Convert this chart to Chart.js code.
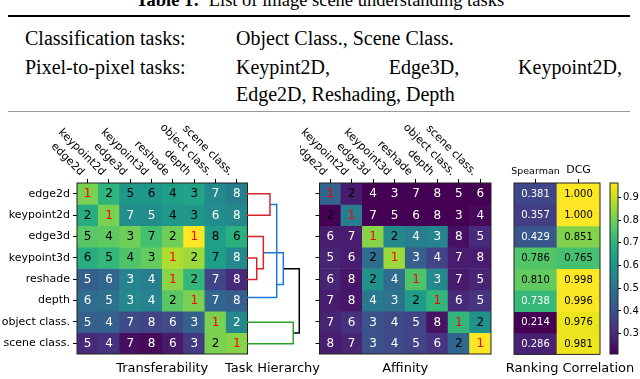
<!DOCTYPE html>
<html>
<head>
<meta charset="utf-8">
<script src="https://cdn.jsdelivr.net/npm/chart.js@4.4.1/dist/chart.umd.min.js"></script>
<style>
  body { margin: 0; background: #fff; }
  #page { position: relative; width: 640px; height: 379px; overflow: hidden; background: #fff; }
  .tx { position: absolute; font-family: "Liberation Serif", "Times New Roman", serif; font-size: 20px; line-height: 20px; color: #000; white-space: nowrap; }
  .rule { position: absolute; left: 8px; width: 622px; background: #000; }
  canvas { position: absolute; top: 115px; }
</style>
</head>
<body>
<div id="page">
  <div class="tx" style="left:0;width:640px;text-align:center;top:-10px;font-size:18.5px"><b>Table 1:</b>&nbsp; List of image scene understanding tasks</div>
  <div class="rule" style="top:15px;height:2px"></div>
  <div class="tx" style="left:25px;top:28px">Classification tasks:</div>
  <div class="tx" style="left:236px;top:28px">Object Class., Scene Class.</div>
  <div class="tx" style="left:25px;top:57px">Pixel-to-pixel tasks:</div>
  <div class="tx" style="left:236px;top:57px;width:386px;text-align:justify;text-align-last:justify">Keypint2D, Edge3D, Keypoint2D,</div>
  <div class="tx" style="left:236px;top:84px">Edge2D, Reshading, Depth</div>
  <div class="rule" style="top:111px;height:1px;background:#999"></div>
  <canvas id="trans" width="250" height="264" style="left:0"></canvas>
  <canvas id="tree" width="115" height="264" style="left:215px"></canvas>
  <canvas id="aff" width="200" height="264" style="left:300px"></canvas>
  <canvas id="rank" width="140" height="264" style="left:500px"></canvas>
  <canvas id="cbar" width="40" height="264" style="left:600px"></canvas>
</div>
<script>
// tasks, in heatmap row / column order
var tasks = ['edge2d', 'keypoint2d', 'edge3d', 'keypoint3d', 'reshade', 'depth', 'object class.', 'scene class.'];

// transferability: rank printed in each cell and the colour value (0..1) behind it
var transferRank = [
    [1, 2, 5, 6, 4, 3, 7, 8],
    [2, 1, 7, 5, 4, 3, 6, 8],
    [5, 4, 3, 7, 2, 1, 8, 6],
    [6, 5, 4, 3, 1, 2, 7, 8],
    [5, 6, 3, 4, 1, 2, 7, 8],
    [6, 5, 3, 4, 2, 1, 7, 8],
    [5, 4, 7, 8, 6, 3, 1, 2],
    [5, 4, 7, 8, 6, 3, 2, 1]
];
var transferScore = [
    [0.80, 0.65, 0.53, 0.53, 0.56, 0.58, 0.47, 0.43],
    [0.62, 0.80, 0.49, 0.49, 0.53, 0.53, 0.48, 0.47],
    [0.74, 0.75, 0.78, 0.70, 0.78, 1.00, 0.56, 0.63],
    [0.62, 0.66, 0.72, 0.76, 0.88, 0.85, 0.56, 0.47],
    [0.30, 0.33, 0.45, 0.43, 0.82, 0.66, 0.20, 0.12],
    [0.35, 0.37, 0.47, 0.45, 0.74, 0.80, 0.33, 0.30],
    [0.30, 0.30, 0.22, 0.20, 0.22, 0.30, 0.80, 0.47],
    [0.12, 0.14, 0.04, 0.02, 0.07, 0.17, 0.80, 0.82]
];

// affinity: rank and colour value
var affinityRank = [
    [1, 2, 4, 3, 7, 8, 5, 6],
    [2, 1, 7, 5, 6, 8, 3, 4],
    [6, 7, 1, 2, 4, 3, 8, 5],
    [5, 6, 2, 1, 3, 4, 7, 8],
    [6, 8, 2, 4, 1, 3, 7, 5],
    [7, 8, 4, 3, 2, 1, 6, 5],
    [7, 6, 3, 4, 5, 8, 1, 2],
    [8, 7, 3, 4, 5, 6, 2, 1]
];
var affinityScore = [
    [0.32, 0.08, 0.00, 0.00, 0.00, 0.00, 0.00, 0.00],
    [0.00, 0.42, 0.00, 0.00, 0.00, 0.00, 0.00, 0.02],
    [0.08, 0.08, 0.82, 0.47, 0.42, 0.45, 0.04, 0.12],
    [0.10, 0.08, 0.36, 0.85, 0.30, 0.20, 0.08, 0.08],
    [0.10, 0.06, 0.50, 0.35, 0.72, 0.47, 0.07, 0.10],
    [0.08, 0.06, 0.40, 0.38, 0.55, 0.66, 0.12, 0.15],
    [0.10, 0.14, 0.25, 0.22, 0.20, 0.05, 0.66, 0.50],
    [0.08, 0.10, 0.25, 0.22, 0.20, 0.15, 0.33, 1.00]
];

// ranking correlation
var corrNames = ['Spearman', 'DCG'];
var spearman = [0.381, 0.357, 0.429, 0.786, 0.810, 0.738, 0.214, 0.286];
var dcg = [1.000, 1.000, 0.851, 0.765, 0.998, 0.996, 0.976, 0.981];
var corrMin = 0.214, corrMax = 1.0;
// colour bar axis as it reads on the picture
var cbarMin = 0.21, cbarMax = 0.964;
var cbarTicks = [0.3, 0.4, 0.5, 0.6, 0.7, 0.8, 0.9];

// task hierarchy links: merge heights and row positions (U shapes)
var linkHeight = [
    [0, 1.55, 1.55, 0],
    [0, 2.55, 2.55, 1.55],
    [0, 3.56, 3.56, 0],
    [3.56, 4.58, 4.58, 0],
    [2.55, 5.58, 5.58, 4.58],
    [0, 7.09, 7.09, 0],
    [5.58, 8.0, 8.0, 7.09]
];
var linkRow = [
    [3, 3, 4, 4],
    [2, 2, 3.5, 3.5],
    [0, 0, 1, 1],
    [0.5, 0.5, 4.85, 4.85],
    [2.75, 2.75, 4.24, 4.24],
    [6, 6, 7, 7],
    [3.5, 3.5, 6.5, 6.5]
];
var linkColor = ['#d62728', '#d62728', '#d62728', '#1f77d4', '#1f77d4', '#2ca02c', '#000000'];

var viridisStops = ['#440154', '#471365', '#482475', '#463480', '#414487', '#3b528b', '#355f8d',
    '#2f6c8e', '#2a788e', '#25848e', '#21918c', '#1e9c89', '#22a884', '#2fb47c', '#44bf70',
    '#5ec962', '#7ad151', '#9bd93c', '#bddf26', '#dfe318', '#fde725'];

function hexRgb(h) {
    return [parseInt(h.substr(1, 2), 16), parseInt(h.substr(3, 2), 16), parseInt(h.substr(5, 2), 16)];
}

function viridis(t) {
    t = Math.max(0, Math.min(1, t));
    var p = t * (viridisStops.length - 1);
    var i = Math.min(Math.floor(p), viridisStops.length - 2);
    var f = p - i;
    var a = hexRgb(viridisStops[i]), b = hexRgb(viridisStops[i + 1]);
    return 'rgb(' + Math.round(a[0] + (b[0] - a[0]) * f) + ',' + Math.round(a[1] + (b[1] - a[1]) * f) + ',' + Math.round(a[2] + (b[2] - a[2]) * f) + ')';
}

function corrColor(v) {
    return viridis((v - corrMin) / (corrMax - corrMin));
}

Chart.defaults.font.family = 'DejaVu Sans';
Chart.defaults.color = '#000';
Chart.defaults.animation = false;
Chart.defaults.responsive = false;
Chart.defaults.devicePixelRatio = 1;
Chart.defaults.plugins.legend.display = false;
Chart.defaults.plugins.tooltip.enabled = false;

// every row is one dataset of floating bars, one bar per column
function rowDatasets(colours) {
    return colours.map(function(row, r) {
        return {
            data: row.map(function() { return [r - 0.5, r + 0.5]; }),
            backgroundColor: row,
            grouped: false,
            barPercentage: 1,
            categoryPercentage: 1,
            borderWidth: 0
        };
    });
}

var frame = {
    id: 'frame',
    afterDraw: function(chart) {
        var a = chart.chartArea, ctx = chart.ctx;
        ctx.save();
        ctx.strokeStyle = '#222';
        ctx.lineWidth = 1;
        ctx.strokeRect(a.left, a.top, a.right - a.left, a.bottom - a.top);
        ctx.restore();
    }
};

function cellText(textOf, colourOf, size) {
    return {
        id: 'cellText',
        afterDatasetsDraw: function(chart) {
            var ctx = chart.ctx;
            ctx.save();
            ctx.font = size + 'px "DejaVu Sans"';
            ctx.textAlign = 'center';
            ctx.textBaseline = 'middle';
            chart.data.datasets.forEach(function(ds, r) {
                chart.getDatasetMeta(r).data.forEach(function(bar, c) {
                    ctx.fillStyle = colourOf(r, c);
                    ctx.fillText(textOf(r, c), bar.x, (bar.y + bar.base) / 2 + 0.5);
                });
            });
            ctx.restore();
        }
    };
}

// column names slanted down to their tick, like matplotlib rotation=-45
var slantLabels = {
    id: 'slantLabels',
    afterDraw: function(chart) {
        var xs = chart.scales.x, ctx = chart.ctx, top = chart.chartArea.top;
        ctx.save();
        ctx.font = '11px "DejaVu Sans"';
        ctx.fillStyle = '#000';
        ctx.textAlign = 'right';
        ctx.textBaseline = 'middle';
        chart.data.labels.forEach(function(l, i) {
            ctx.save();
            ctx.translate(xs.getPixelForTick(i) - 5.5, top - 9);
            ctx.rotate(Math.PI / 4);
            ctx.fillText(l, 0, 0);
            ctx.restore();
        });
        ctx.restore();
    }
};

// an axis that only reserves room at one side
function spacer(position, size) {
    return {
        position: position,
        ticks: { display: false }, grid: { display: false }, border: { display: false },
        afterFit: function(s) { if (position === 'left' || position === 'right') s.width = size; else s.height = size; }
    };
}

function heatmap(id, colours, textOf, colourOf, title, left, padRight, rowLabels) {
    return new Chart(document.getElementById(id), {
        type: 'bar',
        data: { labels: tasks, datasets: rowDatasets(colours) },
        options: {
            layout: { padding: { right: padRight } },
            scales: {
                x: {
                    position: 'top',
                    ticks: { display: false },
                    grid: { offset: false, drawOnChartArea: false, tickLength: 4, color: '#000' },
                    border: { display: false },
                    afterFit: function(s) { s.height = 68; }
                },
                x2: {
                    type: 'category',
                    position: 'bottom',
                    ticks: { display: false },
                    grid: { display: false },
                    border: { display: false },
                    title: { display: true, text: title, font: { size: 13 }, padding: { top: 0, bottom: 3 } },
                    afterFit: function(s) { s.height = 25; }
                },
                y: {
                    min: -0.5, max: 7.5, reverse: true,
                    afterBuildTicks: function(s) { s.ticks = tasks.map(function(t, i) { return { value: i }; }); },
                    ticks: { display: rowLabels, font: { size: 11 }, padding: 3, callback: function(v) { return tasks[v]; } },
                    grid: { drawOnChartArea: false, tickLength: 4, color: '#000' },
                    border: { display: false },
                    afterFit: function(s) { s.width = left; }
                }
            }
        },
        plugins: [frame, cellText(textOf, colourOf, 12), slantLabels]
    });
}

heatmap('trans', transferScore.map(function(r) { return r.map(viridis); }),
    function(r, c) { return transferRank[r][c]; },
    function(r, c) {
        if (transferRank[r][c] === 1) return '#ff0000';
        return transferScore[r][c] >= 0.51 ? '#000' : '#fff';
    },
    'Transferability', 77, 2.5, true);

heatmap('aff', affinityScore.map(function(r) { return r.map(viridis); }),
    function(r, c) { return affinityRank[r][c]; },
    function(r, c) {
        if (affinityRank[r][c] === 1) return '#ff0000';
        return affinityRank[r][c] === 2 ? '#000' : '#fff';
    },
    'Affinity', 19.5, 9, false);

// dendrogram
var treeLeft = spacer('left', 31.5);
treeLeft.min = -0.5; treeLeft.max = 7.5; treeLeft.reverse = true;
new Chart(document.getElementById('tree'), {
    type: 'scatter',
    data: {
        datasets: linkHeight.map(function(hs, i) {
            return {
                data: hs.map(function(h, j) { return { x: h, y: linkRow[i][j] }; }),
                showLine: true,
                borderColor: linkColor[i],
                borderWidth: 1.5,
                pointRadius: 0,
                clip: false
            };
        })
    },
    options: {
        layout: { padding: { top: 68 } },
        scales: {
            x: { min: 0, max: 8.2, display: false },
            y: treeLeft,
            y2: spacer('right', 29.4)
        },
        plugins: {
            title: {
                display: true, position: 'bottom', text: 'Task Hierarchy', color: '#000',
                font: { size: 13, weight: 'normal' }, padding: { top: 6, bottom: 3 }
            }
        }
    }
});

// ranking correlation
var rankLeft = spacer('left', 14);
rankLeft.min = -0.5; rankLeft.max = 7.5; rankLeft.reverse = true;
new Chart(document.getElementById('rank'), {
    type: 'bar',
    data: {
        labels: corrNames,
        datasets: rowDatasets(spearman.map(function(v, r) { return [corrColor(v), corrColor(dcg[r])]; }))
    },
    options: {
        scales: {
            x: {
                position: 'top',
                ticks: {
                    autoSkip: false, maxRotation: 0, padding: 2,
                    font: function(c) { return { size: c.index === 0 ? 9.5 : 11 }; }
                },
                grid: { offset: false, drawOnChartArea: false, tickLength: 4, color: '#000' },
                border: { display: false },
                afterFit: function(s) { s.height = 68; }
            },
            y: rankLeft,
            y2: spacer('right', 40)
        },
        plugins: {
            title: {
                display: true, position: 'bottom', text: 'Ranking Correlation', color: '#000',
                font: { size: 13, weight: 'normal' }, padding: { top: 6, bottom: 3 }
            }
        }
    },
    plugins: [frame, cellText(
        function(r, c) { return (c === 0 ? spearman[r] : dcg[r]).toFixed(3); },
        function(r, c) { return (c === 0 ? spearman[r] : dcg[r]) < 0.75 ? '#fff' : '#000'; },
        10)]
});

// colour bar
new Chart(document.getElementById('cbar'), {
    type: 'bar',
    data: {
        labels: ['cbar'],
        datasets: [{
            data: [[cbarMin, cbarMax]],
            backgroundColor: function(c) {
                var a = c.chart.chartArea;
                if (!a) return '#21918c';
                var g = c.chart.ctx.createLinearGradient(0, a.bottom, 0, a.top);
                viridisStops.forEach(function(s, i) { g.addColorStop(i / (viridisStops.length - 1), s); });
                return g;
            },
            barPercentage: 1,
            categoryPercentage: 1,
            borderWidth: 0
        }]
    },
    options: {
        layout: { padding: { left: 10, top: 68, bottom: 25 } },
        scales: {
            x: { display: false },
            y: {
                position: 'right', min: cbarMin, max: cbarMax,
                afterBuildTicks: function(s) { s.ticks = cbarTicks.map(function(v) { return { value: v }; }); },
                ticks: { font: { size: 10 }, padding: 2, callback: function(v) { return v.toFixed(1); } },
                grid: { drawOnChartArea: false, tickLength: 3, color: '#000' },
                border: { display: false },
                afterFit: function(s) { s.width = 22; }
            }
        }
    },
    plugins: [frame]
});
</script>
</body>
</html>
